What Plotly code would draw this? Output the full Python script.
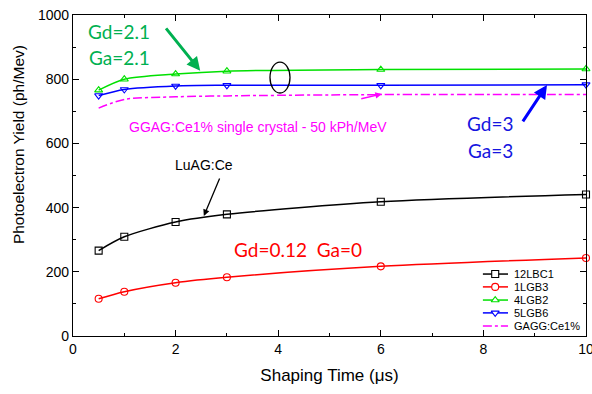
import plotly.graph_objects as go

shaping_time = [0.5, 1, 2, 3, 6, 10]
lbc1_12 = [266, 309, 355, 379, 418, 441]
lgb3_1 = [116, 138, 166, 183, 217, 243]
lgb2_4 = [766, 800, 816, 825, 830, 832]
lgb6_5 = [749, 768, 779, 781, 781, 783]
gagg_ce = [710, 737, 745, 748, 752, 752]

series = [
    ("12LBC1", lbc1_12, "#000000", "square-open", "solid"),
    ("1LGB3", lgb3_1, "#ff0000", "circle-open", "solid"),
    ("4LGB2", lgb2_4, "#00e000", "triangle-up-open", "solid"),
    ("5LGB6", lgb6_5, "#0000ff", "triangle-down-open", "solid"),
    ("GAGG:Ce1%", gagg_ce, "#ff00ff", None, "dashdot"),
]

# compact legend layout (fractions of the plot area)
leg_x0, leg_x1, leg_xm, leg_xt = 0.799, 0.848, 0.823, 0.856
leg_y = [0.193, 0.153, 0.112, 0.072, 0.031]

fig = go.Figure()
ann = []
for i, (name, vals, col, sym, dash) in enumerate(series):
    mode = "lines+markers" if sym else "lines"
    mk = dict(symbol=sym, size=7, color=col, line=dict(width=1.1, color=col)) if sym else None
    fig.add_trace(go.Scatter(
        x=shaping_time, y=vals, name=name, mode=mode, showlegend=False, cliponaxis=False,
        line=dict(color=col, width=1.5, dash=dash, shape="spline", smoothing=0.8),
        marker=mk,
    ))
    # legend sample
    fig.add_trace(go.Scatter(
        x=[leg_x0, leg_x1], y=[leg_y[i], leg_y[i]], xaxis="x2", yaxis="y2",
        mode="lines", showlegend=False, hoverinfo="skip",
        line=dict(color=col, width=1.5, dash=dash)))
    if sym:
        fig.add_trace(go.Scatter(
            x=[leg_xm], y=[leg_y[i]], xaxis="x2", yaxis="y2", mode="markers",
            showlegend=False, hoverinfo="skip",
            marker=dict(symbol=sym.replace("-open", ""), size=7, color="white",
                        line=dict(width=1.1, color=col))))
    ann.append(dict(x=leg_xt, y=leg_y[i], xref="x2", yref="y2", text=name, showarrow=False,
                    xanchor="left", yanchor="middle",
                    font=dict(size=11, color="#000", family="Liberation Sans, Arial")))

def txt(x, y, t, color, size, family="Liberation Sans, Arial"):
    ann.append(dict(x=x, y=y, text=t, showarrow=False, xref="x", yref="y",
                    font=dict(color=color, size=size, family=family)))
def arrow(x, y, ax, ay, color, width, head=2, size=1):
    ann.append(dict(x=x, y=y, ax=ax, ay=ay, xref="x", yref="y", axref="x", ayref="y",
                    text="", showarrow=True, arrowcolor=color, arrowwidth=width,
                    arrowhead=head, arrowsize=size))

txt(0.9, 950, "Gd=2.1", "#00b050", 19, "Lato, Liberation Sans")
txt(0.9, 869, "Ga=2.1", "#00b050", 19, "Lato, Liberation Sans")
txt(3.6, 651, "GGAG:Ce1% single crystal - 50 kPh/MeV", "#ff00ff", 14)
txt(8.13, 663, "Gd=3", "#1515e0", 19, "Lato, Liberation Sans")
txt(8.13, 579, "Ga=3", "#1515e0", 19, "Lato, Liberation Sans")
txt(2.55, 533, "LuAG:Ce", "#000000", 14)
txt(4.39, 268, "Gd=0.12&nbsp;&nbsp;Ga=0", "#ff0000", 19, "Lato, Liberation Sans")

arrow(2.48, 826, 1.79, 963, "#00b050", 3, head=2, size=0.9)
arrow(6.02, 754, 5.59, 738, "#ff00ff", 1.3, head=2, size=1)
arrow(9.24, 782, 8.75, 664, "#0000ff", 3, head=2, size=0.9)
arrow(2.55, 374, 2.87, 495, "#000000", 1.3, head=2, size=1)

# y-axis title (sits above the axis centre in the reference)
ann.append(dict(x=-0.107, y=0.595, xref="paper", yref="paper", text="Photoelectron Yield (ph/Mev)",
                textangle=-90, showarrow=False, xanchor="center", yanchor="middle",
                font=dict(size=15.5, color="#000", family="Liberation Sans, Arial")))

fig.update_layout(
    width=592, height=394,
    margin=dict(l=73, r=6, t=15, b=58),
    paper_bgcolor="white", plot_bgcolor="white",
    font=dict(family="Liberation Sans, Arial", size=14, color="#000"),
    annotations=ann,
    shapes=[dict(type="circle", xref="x", yref="y", x0=3.84, x1=4.23, y0=757, y1=853,
                 line=dict(color="#000", width=1.3))],
    showlegend=False,
    xaxis=dict(range=[0, 10], tickvals=[0, 2, 4, 6, 8, 10], ticks="inside", ticklen=6,
               minor=dict(tickvals=[1, 3, 5, 7, 9], ticks="inside", ticklen=3, tickcolor="#000"),
               showline=True, linecolor="#000", linewidth=1.3, mirror="allticks",
               showgrid=False, zeroline=False, tickcolor="#000", automargin=False,
               ticklabeloverflow="allow",
               title=dict(text="Shaping Time (μs)", font=dict(size=17), standoff=13)),
    yaxis=dict(range=[0, 1000], tickvals=[0, 200, 400, 600, 800, 1000], ticks="inside", ticklen=6,
               minor=dict(tickvals=[100, 300, 500, 700, 900], ticks="inside", ticklen=3, tickcolor="#000"),
               showline=True, linecolor="#000", linewidth=1.3, mirror="allticks",
               showgrid=False, zeroline=False, tickcolor="#000", automargin=False,
               ticklabeloverflow="allow"),
    xaxis2=dict(overlaying="x", range=[0, 1], visible=False, anchor="y2"),
    yaxis2=dict(overlaying="y", range=[0, 1], visible=False, anchor="x2"),
)

fig.write_html("out.html", config={"displayModeBar": False},
               post_script="document.body.style.margin='0';")
with open("out.html", encoding="utf-8") as f:
    html = f.read()
html = html.replace("<body>", '<body style="margin:0;overflow:hidden">', 1)
with open("out.html", "w", encoding="utf-8") as f:
    f.write(html)
